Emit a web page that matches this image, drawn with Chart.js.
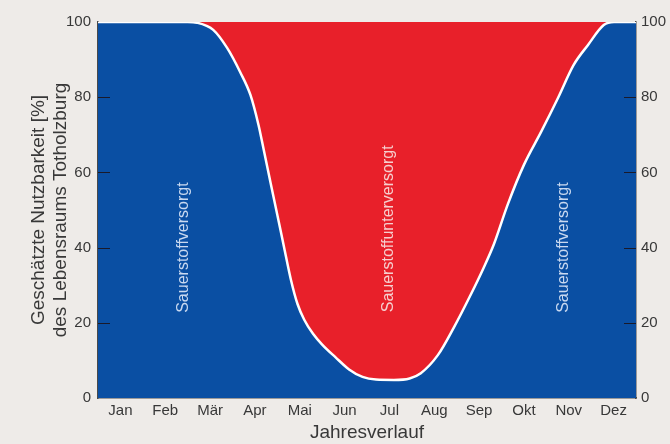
<!DOCTYPE html>
<html>
<head>
<meta charset="utf-8">
<script src="https://cdn.jsdelivr.net/npm/chart.js@4/dist/chart.umd.min.js"></script>
<style>
  html, body { margin: 0; padding: 0; background: #eeebe8; }
  #wrap { width: 670px; height: 444px; }
</style>
</head>
<body>
<div id="wrap"><canvas id="c" width="670" height="444"></canvas></div>
<script>
// month labels, placed at the middle of each month (x = 0..12)
var months = ['Jan', 'Feb', 'Mär', 'Apr', 'Mai', 'Jun', 'Jul', 'Aug', 'Sep', 'Okt', 'Nov', 'Dez'];

// curve: x in months since 1 Jan, y in %
var curveX = [0, 1, 2.0, 2.21, 2.57, 2.88, 3.17, 3.40, 3.58, 3.70, 3.85, 4.00, 4.15, 4.30, 4.45, 4.60, 4.80, 5.00, 5.30, 5.60, 5.90, 6.20, 6.60, 6.95, 7.20, 7.58, 7.93, 8.31, 8.60, 8.83, 9.14, 9.50, 9.88, 10.26, 10.61, 10.93, 11.28, 11.51, 12];
var curveY = [100, 100, 100, 99.8, 97.9, 93.1, 86.7, 80.6, 72.6, 65.8, 57.2, 48.7, 40.1, 31.6, 25.0, 20.8, 17.0, 14.2, 10.8, 7.6, 5.6, 4.9, 4.8, 5.2, 6.6, 11.4, 18.6, 27.4, 34.6, 40.9, 51.5, 62.0, 70.7, 79.8, 88.6, 93.9, 99.2, 100, 100];

var yTicks = [0, 20, 40, 60, 80, 100];

// text labels inside the areas
var areaText = ['Sauerstoffversorgt', 'Sauerstoffunterversorgt', 'Sauerstoffversorgt'];
var areaTextX = [1.91, 6.48, 10.39];
var areaTextY = [40, 45, 40];

var C = {
  bg: '#eeebe8',
  blue: '#0a4fa3',
  red: '#e8202a',
  text: '#383838',
  axis: '#4a4a4a',
  font: "'Liberation Sans', Arial, sans-serif"
};

var points = curveX.map(function (x, i) { return { x: x, y: curveY[i] }; });

Chart.defaults.font.family = C.font;
Chart.defaults.color = C.text;

// inward tick marks on both y axes + rotated text inside the areas
var decor = {
  id: 'decor',
  afterDatasetsDraw: function (chart) {
    var ctx = chart.ctx, a = chart.chartArea;
    var ys = chart.scales.y, xs = chart.scales.x;
    ctx.save();
    ctx.strokeStyle = '#1a1a2a';
    ctx.lineWidth = 1.2;
    yTicks.forEach(function (v) {
      if (v === 0 || v === 100) return;
      var py = Math.round(ys.getPixelForValue(v)) + 0.5;
      ctx.beginPath();
      ctx.moveTo(a.left, py); ctx.lineTo(a.left + 12, py);
      ctx.moveTo(a.right, py); ctx.lineTo(a.right - 12, py);
      ctx.stroke();
    });
    ctx.font = '16px ' + C.font;
    ctx.textAlign = 'center';
    ctx.textBaseline = 'middle';
    areaText.forEach(function (t, i) {
      ctx.save();
      ctx.translate(xs.getPixelForValue(areaTextX[i]), ys.getPixelForValue(areaTextY[i]));
      ctx.rotate(-Math.PI / 2);
      ctx.fillStyle = i === 1 ? '#f6cfcf' : '#c9d9f0';
      ctx.fillText(t, 0, 0);
      ctx.restore();
    });
    ctx.restore();
  }
};

new Chart(document.getElementById('c'), {
  type: 'line',
  data: {
    datasets: [
      {
        // blue area below the curve, white outline on top
        data: points,
        borderColor: '#ffffff',
        borderWidth: 2.5,
        pointRadius: 0,
        backgroundColor: C.blue,
        fill: 'origin',
        cubicInterpolationMode: 'monotone'
      },
      {
        // red area above the curve
        data: points,
        borderWidth: 0,
        pointRadius: 0,
        backgroundColor: C.red,
        fill: 'end',
        cubicInterpolationMode: 'monotone'
      }
    ]
  },
  options: {
    responsive: false,
    animation: false,
    events: [],
    layout: { padding: { top: 22, left: 28, right: 0, bottom: 0 } },
    plugins: { legend: { display: false }, tooltip: { enabled: false } },
    scales: {
      x: {
        type: 'linear',
        min: 0, max: 12,
        afterBuildTicks: function (s) {
          s.ticks = months.map(function (_, i) { return { value: i + 0.5 }; });
        },
        afterFit: function (s) { s.height = 46; },
        grid: { display: false, drawTicks: false },
        border: { display: true, color: C.axis, width: 1.5 },
        ticks: {
          padding: 4,
          maxRotation: 0,
          autoSkip: false,
          font: { size: 15 },
          color: C.text,
          callback: function (v) { return months[Math.floor(v)]; }
        },
        title: { display: true, text: 'Jahresverlauf', font: { size: 19 }, color: C.text, padding: { top: 1, bottom: 0 } }
      },
      y: {
        position: 'left',
        min: 0, max: 100,
        afterBuildTicks: function (s) { s.ticks = yTicks.map(function (v) { return { value: v }; }); },
        afterFit: function (s) { s.width = 70; },
        grid: { drawOnChartArea: false, drawTicks: false },
        border: { display: true, color: C.axis, width: 1.5 },
        ticks: { padding: 7, font: { size: 15 }, color: C.text },
        title: {
          display: true,
          text: ['Geschätzte Nutzbarkeit [%]', 'des Lebensraums Totholzburg'],
          font: { size: 19, lineHeight: 1.15 },
          color: C.text,
          padding: { top: 0, bottom: 0 }
        }
      },
      y2: {
        position: 'right',
        min: 0, max: 100,
        afterBuildTicks: function (s) { s.ticks = yTicks.map(function (v) { return { value: v }; }); },
        afterFit: function (s) { s.width = 34; },
        grid: { drawOnChartArea: false, drawTicks: false },
        border: { display: true, color: C.axis, width: 1.5 },
        ticks: { padding: 5, font: { size: 15 }, color: C.text }
      }
    }
  },
  plugins: [decor]
});
</script>
</body>
</html>
